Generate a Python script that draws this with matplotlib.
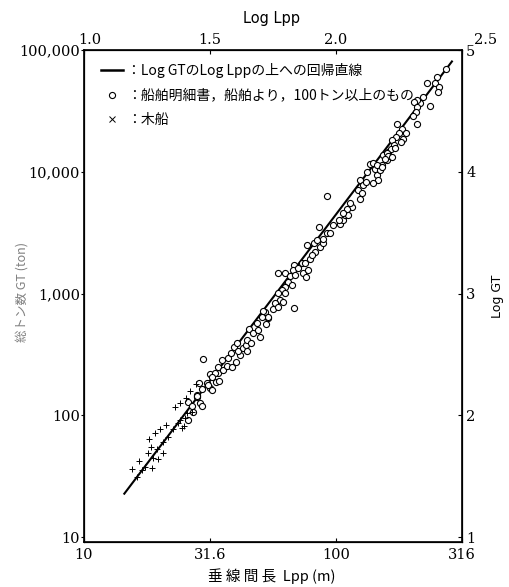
"""Log GT vs Log Lpp scatter with regression line (ship gross tonnage vs length)."""

import numpy as np
import matplotlib

matplotlib.use("Agg")
import matplotlib.pyplot as plt
from matplotlib.lines import Line2D
from matplotlib.ticker import FixedLocator, FixedFormatter
from matplotlib.transforms import offset_copy

# steel ships (circles), log10 of Lpp [m] and log10 of GT [ton]
log_lpp_steel = [
    1.414, 1.427, 1.414, 1.450, 1.460, 1.467, 1.458, 1.487, 1.500, 1.500, 1.524, 1.533, 1.434, 1.447,
    1.473, 1.546, 1.533, 1.553, 1.566, 1.586, 1.520, 1.507, 1.537, 1.493, 1.467, 1.507, 1.447, 1.573,
    1.582, 1.595, 1.608, 1.619, 1.612, 1.632, 1.643, 1.646, 1.648, 1.661, 1.656, 1.672, 1.685, 1.692,
    1.698, 1.718, 1.722, 1.731, 1.603,
    1.769, 1.798, 1.833, 1.831, 1.850, 1.817, 1.837, 1.870, 1.890, 1.881, 1.864, 1.877, 1.897, 1.886,
    1.913, 1.926, 1.937, 1.950, 1.934, 1.963, 1.950, 1.917, 1.903, 1.811, 1.798, 1.824, 1.785, 1.771,
    1.798, 1.778, 1.758, 1.791, 1.751, 1.771, 1.833, 1.711, 1.731, 1.705,
    1.963, 1.976, 1.989, 2.016, 2.029, 2.013, 2.036, 2.049, 2.062, 2.056, 2.042, 2.027, 2.095, 2.095,
    2.088, 2.102, 2.108, 2.119, 2.124, 2.135, 2.155, 2.161, 2.168, 2.175, 2.148, 2.181, 2.188, 2.201,
    2.208,
    2.437, 2.400, 2.393, 2.410, 2.406, 2.362, 2.346, 2.333, 2.323, 2.310, 2.375, 2.323, 2.317, 2.307,
    2.320, 2.243, 2.261, 2.251, 2.278, 2.238, 2.267, 2.257, 2.221, 2.230, 2.217, 2.234, 2.201, 2.208,
    2.221, 2.194, 2.148, 2.161, 2.181,
]
log_gt_steel = [
    2.111, 2.076, 1.961, 2.147, 2.098, 2.076, 2.262, 2.262, 2.221, 2.339, 2.276, 2.345, 2.029, 2.166,
    2.462, 2.454, 2.394, 2.372, 2.405, 2.394, 2.345, 2.312, 2.284, 2.248, 2.213, 2.207, 2.158, 2.468,
    2.514, 2.563, 2.596, 2.495, 2.530, 2.550, 2.577, 2.618, 2.530, 2.596, 2.706, 2.673, 2.755, 2.700,
    2.645, 2.851, 2.749, 2.796, 2.440,
    3.171, 3.166, 3.234, 3.193, 3.207, 3.144, 3.152, 3.166, 3.193, 3.138, 3.248, 3.253, 3.281, 3.398,
    3.412, 3.439, 3.384, 3.417, 3.544, 3.494, 3.445, 3.343, 3.316, 3.097, 3.056, 3.070, 3.029, 3.002,
    3.002, 2.947, 2.920, 2.933, 2.870, 2.892, 2.878, 2.859, 2.809, 2.809,
    3.801, 3.494, 3.563, 3.571, 3.604, 3.604, 3.645, 3.645, 3.713, 3.746, 3.692, 3.664, 3.774, 3.932,
    3.850, 3.828, 3.891, 3.918, 4.000, 4.064, 4.020, 3.973, 3.932, 4.014, 3.905, 4.055, 4.138, 4.097,
    4.165,
    4.841, 4.781, 4.726, 4.699, 4.658, 4.726, 4.616, 4.562, 4.589, 4.575, 4.540, 4.529, 4.491, 4.458,
    4.392, 4.392, 4.349, 4.321, 4.316, 4.283, 4.267, 4.247, 4.261, 4.220, 4.184, 4.193, 4.157, 4.129,
    4.124, 4.102, 4.069, 4.055, 4.042,
]

# wooden ships (crosses)
log_lpp_wood = [
    1.189, 1.219, 1.229, 1.242, 1.269, 1.253, 1.275, 1.295, 1.265, 1.288, 1.315, 1.259, 1.282, 1.302,
    1.325, 1.315, 1.335, 1.352, 1.374, 1.388, 1.397, 1.361, 1.381, 1.405, 1.421, 1.444, 1.381, 1.401,
    1.410, 1.427, 1.209,
]
log_gt_wood = [
    1.556, 1.627, 1.550, 1.577, 1.564, 1.692, 1.646, 1.638, 1.737, 1.720, 1.687, 1.802, 1.852, 1.885,
    1.920, 1.783, 1.824, 1.885, 1.934, 1.893, 1.912, 2.065, 2.098, 2.139, 2.202, 2.257, 1.961, 1.975,
    2.016, 2.029, 1.495,
]

# regression of Log GT on Log Lpp
fit_slope = 2.73
fit_intercept = -1.81
fit_range = [1.16, 2.46]

x_ticks = [10, 31.6, 100, 316]
x_ticklabels = ["10", "31.6", "100", "316"]
y_ticks = [10, 100, 1000, 10000, 100000]
y_ticklabels = ["10", "100", "1,000", "10,000", "100,000"]
top_ticks = [1.0, 1.5, 2.0, 2.5]
right_ticks = [1, 2, 3, 4, 5]

JP = ["Noto Sans CJK JP", "DejaVu Sans"]
NUM = "DejaVu Serif"
ylo = 0.96  # axis floor in log units (spine sits just below the 10 tick)

fig = plt.figure(figsize=(5.10, 5.87), dpi=100)
ax = fig.add_axes([84 / 510, 1 - 542 / 587, 378 / 510, 492 / 587])

lpp_s = 10 ** np.array(log_lpp_steel)
gt_s = 10 ** np.array(log_gt_steel)
lpp_w = 10 ** np.array(log_lpp_wood)
gt_w = 10 ** np.array(log_gt_wood)
fx = np.array(fit_range)
fy = fit_slope * fx + fit_intercept

ax.plot(10 ** fx, 10 ** fy, color="black", lw=1.5, zorder=3)
ax.plot(lpp_s, gt_s, ls="none", marker="o", ms=4.4, mfc="white", mec="black", mew=0.8, zorder=4)
ax.plot(lpp_w, gt_w, ls="none", marker="+", ms=4.0, color="black", mew=0.7, zorder=4)

ax.set_xscale("log")
ax.set_yscale("log")
ax.set_xlim(10, 10 ** 2.5)
ax.set_ylim(10 ** ylo, 1e5)
ax.xaxis.set_major_locator(FixedLocator(x_ticks))
ax.xaxis.set_major_formatter(FixedFormatter(x_ticklabels))
ax.yaxis.set_major_locator(FixedLocator(y_ticks))
ax.yaxis.set_major_formatter(FixedFormatter(y_ticklabels))
ax.minorticks_off()
ax.tick_params(axis="x", direction="in", length=3, width=0.8, pad=4, labelsize=10.5)
ax.tick_params(axis="y", direction="out", length=2, width=0.8, pad=1, labelsize=10.5)
for lab in ax.get_xticklabels() + ax.get_yticklabels():
    lab.set_fontfamily(NUM)
for sp in ax.spines.values():
    sp.set_linewidth(1.2)

# top axis: Log Lpp
top = ax.twiny()
top.set_xlim(1.0, 2.5)
top.set_xticks(top_ticks)
top.set_xticklabels([f"{t:.1f}" for t in top_ticks], fontfamily=NUM, fontsize=10.5)
top.tick_params(axis="x", direction="in", length=3, width=0.8, pad=2)
tl = top.get_xticklabels()
tl[0].set_transform(offset_copy(tl[0].get_transform(), fig=fig, x=6, y=0, units="dots"))
tl[-1].set_transform(offset_copy(tl[-1].get_transform(), fig=fig, x=24, y=0, units="dots"))
top.set_xlabel("Log Lpp", fontsize=10.5)
top.xaxis.set_label_coords((272 - 84) / 378, (542 - 23) / 492)

# right axis: Log GT
right = ax.twinx()
right.set_ylim(ylo, 5)
right.set_yticks(right_ticks)
right.set_yticklabels([str(t) for t in right_ticks], fontfamily=NUM, fontsize=10.5)
right.tick_params(axis="y", direction="in", length=3, width=0.8, pad=3)
right.set_ylabel("Log GT", fontsize=9)
right.yaxis.set_label_coords((491 - 84) / 378, 0.5)

ax.set_xlabel("垂 線 間 長  Lpp (m)", family=JP, fontsize=10.5)
ax.xaxis.set_label_coords((272 - 84) / 378, (542 - 568) / 492)
ax.set_ylabel("総トン数 GT (ton)", family=JP, fontsize=9, color="#808080")
ax.yaxis.set_label_coords((29 - 84) / 378, (542 - 292) / 492)

handles = [
    Line2D([], [], color="black", lw=1.8),
    Line2D([], [], ls="none", marker="o", ms=4.4, mfc="white", mec="black", mew=0.8),
    Line2D([], [], ls="none", marker="x", ms=4.0, color="black", mew=0.7),
]
labels = [
    "：Log GTのLog Lppの上への回帰直線",
    "：船舶明細書，船舶より，100トン以上のもの",
    "：木船",
]
ax.legend(handles, labels, loc="upper left", bbox_to_anchor=(0.03, 0.985), borderaxespad=0,
          frameon=False, handlelength=1.6, handletextpad=0.3, labelspacing=0.75,
          prop={"family": JP, "size": 10})

fig.savefig("out.png", dpi=100, facecolor="white")
